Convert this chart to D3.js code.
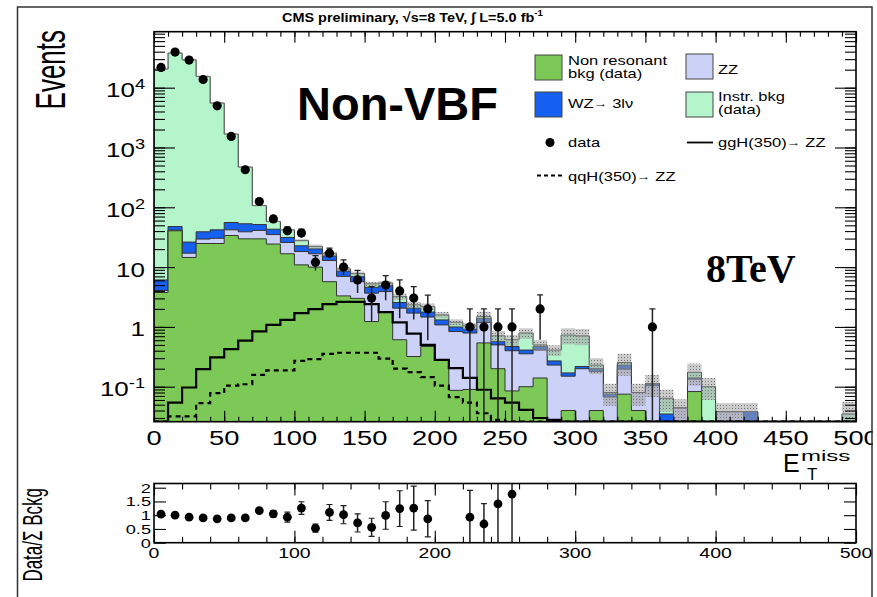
<!DOCTYPE html>
<html>
<head>
<meta charset="utf-8">
<script src="https://cdn.jsdelivr.net/npm/d3@7"></script>
<style>
body { margin: 0; background: #fff; }
svg { display: block; font-family: "Liberation Sans", Arial, Helvetica, sans-serif; }
</style>
</head>
<body>
<div id="chart"></div>
<script>
// bin lower edges, E_T^miss in GeV (bins are 10 wide)
const binStart = [0,10,20,30,40,50,60,70,80,90,100,110,120,130,140,150,160,170,180,190,
    200,210,220,230,240,250,260,270,280,290,300,310,320,330,340,350,360,370,380,390,
    400,410,420,430,440,450,460,470,480,490];
const binWidth = 10;

// stacked backgrounds, events per bin
const nonResonant = [3.76,40.5,14.5,24.8,24.8,33.7,29.7,29.7,24.3,16.7,
    10.9,10.0,5.7,3.3,3.0,1.23,1.78,0.61,0.32,0.47,
    0.28,0.087,0.09,0.54,0.20,0.085,0.10,0.14,0,0.04,
    0,0.04,0,0.075,0.04,0,0,0,0.083,0,
    0,0,0,0,0,0,0,0,0,0];
const zz = [0.30,1.0,2.6,4.6,5.5,8.3,9.2,11.3,10.7,9.1,
    7.3,6.7,7.2,3.7,2.7,2.44,2.12,1.45,1.38,0.99,
    0.80,0.75,0.70,0.65,0.30,0.315,0.255,0.27,0.23,0.11,
    0.20,0.14,0.067,0.122,0.04,0.104,0,0.044,0.051,0,
    0.038,0.038,0,0,0,0,0,0,0,0];
const wz = [2.04,6.2,9.1,9.5,11.7,13.7,14.1,10.5,8.0,5.5,
    4.5,3.5,2.5,1.6,1.2,0.93,0.97,0.50,0.36,0.31,
    0.23,0.16,0.13,0.19,0.07,0.07,0.055,0.06,0.04,0.02,
    0.018,0.02,0.008,0.033,0,0.008,0.035,0,0.006,0,
    0,0,0.038,0,0,0,0,0,0,0];
const instr = [20490,37850,29270,15360,5480,1620,417,55.5,15,10.7,
    5.2,1.9,1.3,0.7,0.9,0.65,0.53,0.66,0.28,0.42,
    0.28,0.2,0.12,0.11,0.14,0.14,0.38,0.03,0.14,0.56,
    0.49,0.03,0.005,0.024,0,0,0.029,0,0.034,0.1,
    0,0,0,0,0,0,0,0,0,0.035];
// relative size of the grey uncertainty band
const bkgUnc = [0.03,0.03,0.03,0.03,0.03,0.03,0.03,0.03,0.03,0.03,
    0.05,0.08,0.08,0.08,0.08,0.08,0.08,0.12,0.12,0.12,
    0.12,0.12,0.12,0.2,0.2,0.2,0.2,0.2,0.2,0.3,
    0.3,0.3,0.4,0.4,0.4,0.4,0.4,0.4,0.4,0.4,
    0.4,0.4,0.4,0.4,0.4,0.4,0.4,0.4,0.4,0.6];

// data
const dataCounts = [21800,39400,28900,13700,4980,1530,424,125,64,40.5,
    37,12.1,17.1,10,6.1,3.03,5.0,4.0,3.03,2.0,
    0,0,1,1,1,1,0,2,0,0,
    0,0,0,0,0,1,0,0,0,0,
    0,0,0,0,0,0,0,0,0,0];
const dataErrLo = [150,200,170,117,70,39,21,11,8,6.4,
    6,3.3,3.0,2.6,2.4,1.8,2.2,2.6,1.7,1.4,
    0,0,1,1,1,1,0,1.39,0,0,
    0,0,0,0,0,1,0,0,0,0,
    0,0,0,0,0,0,0,0,0,0];
const dataErrHi = [150,200,170,117,70,39,21,11,8,6.4,
    6,3.5,3.7,3.2,2.7,1.7,2.2,2.1,1.7,1.4,
    0,0,1,1,1,1,0,1.44,0,0,
    0,0,0,0,0,1,0,0,0,0,
    0,0,0,0,0,0,0,0,0,0];

// signal shapes (not stacked)
const ggH = [0.02,0.054,0.097,0.197,0.31,0.425,0.59,0.84,1.08,1.31,
    1.70,1.99,2.40,2.62,2.62,2.40,1.77,1.19,0.77,0.50,
    0.28,0.205,0.14,0.089,0.064,0.054,0.041,0.030,0.028,0,
    0,0,0,0,0,0,0,0,0,0,
    0,0,0,0,0,0,0,0,0,0];
const qqH = [0,0.032,0.032,0.053,0.078,0.104,0.110,0.158,0.187,0.187,
    0.27,0.29,0.355,0.37,0.37,0.37,0.296,0.20,0.175,0.145,
    0.104,0.067,0.054,0.036,0.028,0,0,0,0,0,
    0,0,0,0,0,0,0,0,0,0,
    0,0,0,0,0,0,0,0,0,0];

// ratio panel: data / sum of backgrounds
const ratio = [1.04,1.0,0.93,0.90,0.87,0.90,0.90,1.17,1.05,0.93,
    1.26,0.53,1.10,1.02,0.72,0.56,0.99,1.24,1.26,0.87,
    null,null,0.93,0.68,1.41,1.77,null,null,null,null,
    null,null,null,null,null,null,null,null,null,null,
    null,null,null,null,null,null,null,null,null,null];
const ratioErr = [0.02,0.02,0.02,0.03,0.03,0.04,0.05,0.08,0.12,0.18,
    0.23,0.15,0.29,0.33,0.33,0.33,0.5,0.65,0.8,0.66,
    null,null,0.97,0.74,1.6,1.9,null,null,null,null,
    null,null,null,null,null,null,null,null,null,null,
    null,null,null,null,null,null,null,null,null,null];

// ticks
const xTicks = [0,50,100,150,200,250,300,350,400,450,500];
const xTickLabels = ["0","50","100","150","200","250","300","350","400","450","500"];
const yTicks = [0.1,1,10,100,1000,10000];
const yTickLabels = [["10","-1"],["1",""],["10",""],["10","2"],["10","3"],["10","4"]];
const ratioXTicks = [0,100,200,300,400,500];
const ratioXLabels = ["0","100","200","300","400","500"];
const ratioYTicks = [0,0.5,1,1.5,2];
const ratioYLabels = ["0","0.5","1","1.5","2"];

const legendNames = ["Non resonant|bkg (data)", "ZZ", "WZ→ 3lν", "Instr. bkg|(data)", "data", "ggH(350)→ ZZ", "qqH(350)→ ZZ"];


class StackedHistogram {

    constructor(_parentElement) {
        this.parentElement = _parentElement;
        this.initVis();
    }

    initVis() {
        let vis = this;

        vis.width = 877;
        vis.height = 597;
        vis.main = { left: 154, right: 856, top: 31.7, bottom: 421.7 };
        vis.sub = { top: 483.5, bottom: 542.7 };

        vis.svg = d3.select("#" + vis.parentElement).append("svg")
            .attr("width", vis.width)
            .attr("height", vis.height);

        vis.svg.append("rect").attr("width", vis.width).attr("height", vis.height).attr("fill", "#fff");

        let defs = vis.svg.append("defs");
        defs.append("clipPath").attr("id", "mainClip").append("rect")
            .attr("x", vis.main.left).attr("y", vis.main.top)
            .attr("width", vis.main.right - vis.main.left).attr("height", vis.main.bottom - vis.main.top);
        defs.append("clipPath").attr("id", "subClip").append("rect")
            .attr("x", vis.main.left).attr("y", vis.sub.top)
            .attr("width", vis.main.right - vis.main.left).attr("height", vis.sub.bottom - vis.sub.top);
        let pat = defs.append("pattern").attr("id", "unc")
            .attr("patternUnits", "userSpaceOnUse").attr("width", 3).attr("height", 3);
        pat.append("rect").attr("width", 3).attr("height", 3).attr("fill", "rgba(160,160,160,0.55)");
        pat.append("rect").attr("width", 1).attr("height", 1).attr("fill", "#777");

        // scales
        vis.x = d3.scaleLinear().domain([0, 500]).range([vis.main.left, vis.main.right]);
        vis.y = d3.scaleLog().domain([0.026, 86300]).range([vis.main.bottom, vis.main.top]).clamp(true);
        vis.ry = d3.scaleLinear().domain([0, 2.153]).range([vis.sub.bottom, vis.sub.top]).clamp(true);

        vis.plot = vis.svg.append("g").attr("clip-path", "url(#mainClip)");
        vis.ratioPlot = vis.svg.append("g").attr("clip-path", "url(#subClip)");
        vis.axes = vis.svg.append("g");

        vis.wrangleData();
    }

    wrangleData() {
        let vis = this;

        // cumulative stack, bottom to top
        vis.bins = binStart.map((b, i) => {
            let c1 = nonResonant[i];
            let c2 = c1 + zz[i];
            let c3 = c2 + wz[i];
            let c4 = c3 + instr[i];
            return { x0: b, x1: b + binWidth, c1: c1, c2: c2, c3: c3, c4: c4, i: i };
        });

        vis.layers = [
            { key: "c4", fill: "#b4f5cc" },
            { key: "c3", fill: "#1560f0" },
            { key: "c2", fill: "#ccd1f8" },
            { key: "c1", fill: "#7dc957" }
        ];

        vis.updateVis();
    }

    stepPoints(values) {
        let pts = [];
        values.forEach((v, i) => {
            pts.push([binStart[i], v]);
            pts.push([binStart[i] + binWidth, v]);
        });
        return pts;
    }

    addText(parent, x, y, sx, size, anchor) {
        return parent.append("text")
            .attr("transform", "translate(" + x + "," + y + ") scale(" + sx + ",1)")
            .attr("text-anchor", anchor)
            .style("font-size", size + "px")
            .attr("fill", "#000");
    }

    updateVis() {
        let vis = this;
        let yv = v => vis.y(Math.max(v, 1e-4));

        // stacked histograms
        let area = d3.area()
            .x(d => vis.x(d[0]))
            .y0(vis.main.bottom)
            .y1(d => yv(d[1]));

        vis.layers.forEach(l => {
            vis.plot.append("path")
                .datum(vis.stepPoints(vis.bins.map(b => b[l.key])))
                .attr("d", area)
                .attr("fill", l.fill)
                .attr("stroke", "#333")
                .attr("stroke-width", 1);
        });

        // uncertainty band
        vis.plot.selectAll(".band")
            .data(vis.bins.filter(b => b.c4 > 0))
            .enter().append("rect")
            .attr("class", "band")
            .attr("x", d => vis.x(d.x0))
            .attr("width", d => vis.x(d.x1) - vis.x(d.x0))
            .attr("y", d => yv(d.c4 * (1 + bkgUnc[d.i])))
            .attr("height", d => yv(d.c4 * (1 - bkgUnc[d.i])) - yv(d.c4 * (1 + bkgUnc[d.i])))
            .attr("fill", "url(#unc)");

        // signal lines
        let line = d3.line().x(d => vis.x(d[0])).y(d => yv(d[1]));
        vis.plot.append("path").datum(vis.stepPoints(ggH))
            .attr("d", line).attr("fill", "none").attr("stroke", "#000").attr("stroke-width", 2.2);
        vis.plot.append("path").datum(vis.stepPoints(qqH))
            .attr("d", line).attr("fill", "none").attr("stroke", "#000").attr("stroke-width", 2.2)
            .attr("stroke-dasharray", "5,4");

        // data points
        let pts = binStart.map((b, i) => ({ x: b + binWidth / 2, v: dataCounts[i], lo: dataErrLo[i], hi: dataErrHi[i] }))
            .filter(d => d.v > 0);
        let dg = vis.plot.selectAll(".pt").data(pts).enter().append("g").attr("class", "pt");
        dg.append("line")
            .attr("x1", d => vis.x(d.x)).attr("x2", d => vis.x(d.x))
            .attr("y1", d => yv(d.v + d.hi)).attr("y2", d => yv(d.v - d.lo))
            .attr("stroke", "#222").attr("stroke-width", 1.5);
        dg.append("line")
            .attr("x1", d => vis.x(d.x) - 3).attr("x2", d => vis.x(d.x) + 3)
            .attr("y1", d => yv(d.v + d.hi)).attr("y2", d => yv(d.v + d.hi))
            .attr("stroke", "#222").attr("stroke-width", 1.2);
        dg.append("circle")
            .attr("cx", d => vis.x(d.x)).attr("cy", d => yv(d.v)).attr("r", 4.6).attr("fill", "#000");

        // ratio points
        let rpts = binStart.map((b, i) => ({ x: b + binWidth / 2, v: ratio[i], e: ratioErr[i] }))
            .filter(d => d.v !== null);
        let rg = vis.ratioPlot.selectAll(".rpt").data(rpts).enter().append("g").attr("class", "rpt");
        rg.append("line")
            .attr("x1", d => vis.x(d.x)).attr("x2", d => vis.x(d.x))
            .attr("y1", d => vis.ry(d.v + d.e)).attr("y2", d => vis.ry(Math.max(d.v - d.e, 0)))
            .attr("stroke", "#222").attr("stroke-width", 1.5);
        rg.filter(d => d.e > 0.1).append("line")
            .attr("x1", d => vis.x(d.x) - 3).attr("x2", d => vis.x(d.x) + 3)
            .attr("y1", d => vis.ry(d.v + d.e)).attr("y2", d => vis.ry(d.v + d.e))
            .attr("stroke", "#222").attr("stroke-width", 1.2);
        rg.filter(d => d.e > 0.1 && d.v - d.e > 0).append("line")
            .attr("x1", d => vis.x(d.x) - 3).attr("x2", d => vis.x(d.x) + 3)
            .attr("y1", d => vis.ry(d.v - d.e)).attr("y2", d => vis.ry(d.v - d.e))
            .attr("stroke", "#222").attr("stroke-width", 1.2);
        rg.append("circle")
            .attr("cx", d => vis.x(d.x)).attr("cy", d => vis.ry(d.v)).attr("r", 4.4).attr("fill", "#000");

        vis.drawAxes();
        vis.drawLabels();
    }

    tickAxis(g, axis) {
        g.call(axis);
        g.select(".domain").remove();
        g.selectAll("line").attr("stroke", "#000").attr("stroke-width", 1.1);
    }

    drawAxes() {
        let vis = this;
        let m = vis.main, s = vis.sub;
        let ax = vis.axes;

        // main panel ticks (pointing inwards)
        let xMinor = binStart.concat([500]);
        let yMinor = vis.y.ticks();
        [[d3.axisBottom, m.bottom], [d3.axisTop, m.top]].forEach(a => {
            vis.tickAxis(ax.append("g").attr("transform", "translate(0," + a[1] + ")"),
                a[0](vis.x).tickValues(xMinor).tickSize(-5).tickFormat(""));
            vis.tickAxis(ax.append("g").attr("transform", "translate(0," + a[1] + ")"),
                a[0](vis.x).tickValues(xTicks).tickSize(-11).tickFormat(""));
        });
        [[d3.axisLeft, m.left], [d3.axisRight, m.right]].forEach(a => {
            vis.tickAxis(ax.append("g").attr("transform", "translate(" + a[1] + ",0)"),
                a[0](vis.y).tickValues(yMinor).tickSize(-11).tickFormat(""));
            vis.tickAxis(ax.append("g").attr("transform", "translate(" + a[1] + ",0)"),
                a[0](vis.y).tickValues(yTicks).tickSize(-21).tickFormat(""));
        });

        // ratio panel ticks
        let rMinor = d3.range(0, 501, 20);
        [[d3.axisBottom, s.bottom], [d3.axisTop, s.top]].forEach(a => {
            vis.tickAxis(ax.append("g").attr("transform", "translate(0," + a[1] + ")"),
                a[0](vis.x).tickValues(rMinor).tickSize(-6).tickFormat(""));
            vis.tickAxis(ax.append("g").attr("transform", "translate(0," + a[1] + ")"),
                a[0](vis.x).tickValues(ratioXTicks).tickSize(-12).tickFormat(""));
        });
        [[d3.axisLeft, m.left], [d3.axisRight, m.right]].forEach(a => {
            vis.tickAxis(ax.append("g").attr("transform", "translate(" + a[1] + ",0)"),
                a[0](vis.ry).tickValues(ratioYTicks).tickSize(-12).tickFormat(""));
        });

        // frames
        ax.append("rect").attr("x", m.left).attr("y", m.top)
            .attr("width", m.right - m.left).attr("height", m.bottom - m.top)
            .attr("fill", "none").attr("stroke", "#000").attr("stroke-width", 1.6);
        ax.append("rect").attr("x", m.left).attr("y", s.top)
            .attr("width", m.right - m.left).attr("height", s.bottom - s.top)
            .attr("fill", "none").attr("stroke", "#000").attr("stroke-width", 1.6);
    }

    drawLabels() {
        let vis = this;
        let g = vis.svg.append("g");

        // tick labels
        xTicks.forEach((t, i) => {
            vis.addText(g, vis.x(t), 445, 1.3, 21, "middle").text(xTickLabels[i]);
        });
        yTicks.forEach((t, i) => {
            let txt = vis.addText(g, 145, vis.y(t) + 9.5, 1.3, 20, "end");
            txt.append("tspan").text(yTickLabels[i][0]);
            if (yTickLabels[i][1]) {
                txt.append("tspan").attr("dy", -8).style("font-size", "14px").text(yTickLabels[i][1]);
            }
        });
        ratioXTicks.forEach((t, i) => {
            vis.addText(g, vis.x(t), 558, 1.3, 15, "middle").text(ratioXLabels[i]);
        });
        ratioYTicks.forEach((t, i) => {
            vis.addText(g, 151, vis.ry(t) + 5, 1.35, 13.5, "end").text(ratioYLabels[i]);
        });

        // axis titles
        g.append("text").attr("transform", "translate(65,30) scale(1.6,1) rotate(-90)")
            .attr("text-anchor", "end").style("font-size", "26px").text("Events");
        g.append("text").attr("transform", "translate(42,488) scale(1.6,1) rotate(-90)")
            .attr("text-anchor", "end").style("font-size", "17px").text("Data/Σ Bckg");
        vis.addText(g, 783, 472, 1.0, 25, "start").text("E");
        vis.addText(g, 807, 480, 1.0, 17, "start").text("T");
        vis.addText(g, 801, 460.5, 1.6, 15, "start").text("miss");

        // title
        let title = vis.addText(g, 282, 21.5, 1.07, 13.5, "start").style("font-weight", "bold");
        title.append("tspan").text("CMS preliminary, √s=8 TeV, ∫ L=5.0 fb");
        title.append("tspan").attr("dy", -6).style("font-size", "9px").text("-1");

        // annotations
        g.append("text").attr("x", 297).attr("y", 120)
            .style("font-size", "47px").style("font-weight", "bold").text("Non-VBF");
        g.append("text").attr("x", 706).attr("y", 281.5)
            .style("font-family", "'Liberation Serif', 'Times New Roman', serif")
            .style("font-size", "40px").style("font-weight", "bold").text("8TeV");

        // legend
        let lg = vis.svg.append("g");
        let boxes = [
            { x: 535, y: 55, fill: "#7dc957" },
            { x: 686, y: 54, fill: "#ccd1f8" },
            { x: 535, y: 92, fill: "#1560f0" },
            { x: 686, y: 92, fill: "#b4f5cc" }
        ];
        boxes.forEach(b => {
            lg.append("rect").attr("x", b.x).attr("y", b.y).attr("width", 27).attr("height", 25)
                .attr("fill", b.fill).attr("stroke", "#444").attr("stroke-width", 1);
        });
        let textPos = [[568, 65], [718, 74], [568, 108], [718, 101], [568, 147], [718, 147], [568, 181]];
        legendNames.forEach((name, i) => {
            let lines = name.split("|");
            lines.forEach((ln, j) => {
                let t = vis.addText(lg, textPos[i][0], textPos[i][1] + j * 12.5, 1.27, 13, "start");
                let parts = ln.split("→");
                t.append("tspan").text(parts[0]);
                if (parts.length > 1) {
                    t.append("tspan").attr("dy", -1).style("font-size", "11px").text("→");
                    t.append("tspan").attr("dy", 1).text(parts[1]);
                }
            });
        });
        lg.append("circle").attr("cx", 550).attr("cy", 142.5).attr("r", 4.5).attr("fill", "#000");
        lg.append("line").attr("x1", 687).attr("x2", 713).attr("y1", 142.5).attr("y2", 142.5)
            .attr("stroke", "#000").attr("stroke-width", 1.8);
        lg.append("line").attr("x1", 537).attr("x2", 562).attr("y1", 175.5).attr("y2", 175.5)
            .attr("stroke", "#000").attr("stroke-width", 1.8).attr("stroke-dasharray", "4,3");

        // outer picture frame
        vis.svg.append("rect").attr("x", 873).attr("y", 0).attr("width", 4).attr("height", vis.height).attr("fill", "#fff");
        vis.svg.append("path").attr("d", "M17.5,597 V7 H872 V597")
            .attr("fill", "none").attr("stroke", "#333").attr("stroke-width", 1.5);
    }
}

new StackedHistogram("chart");
</script>
</body>
</html>
